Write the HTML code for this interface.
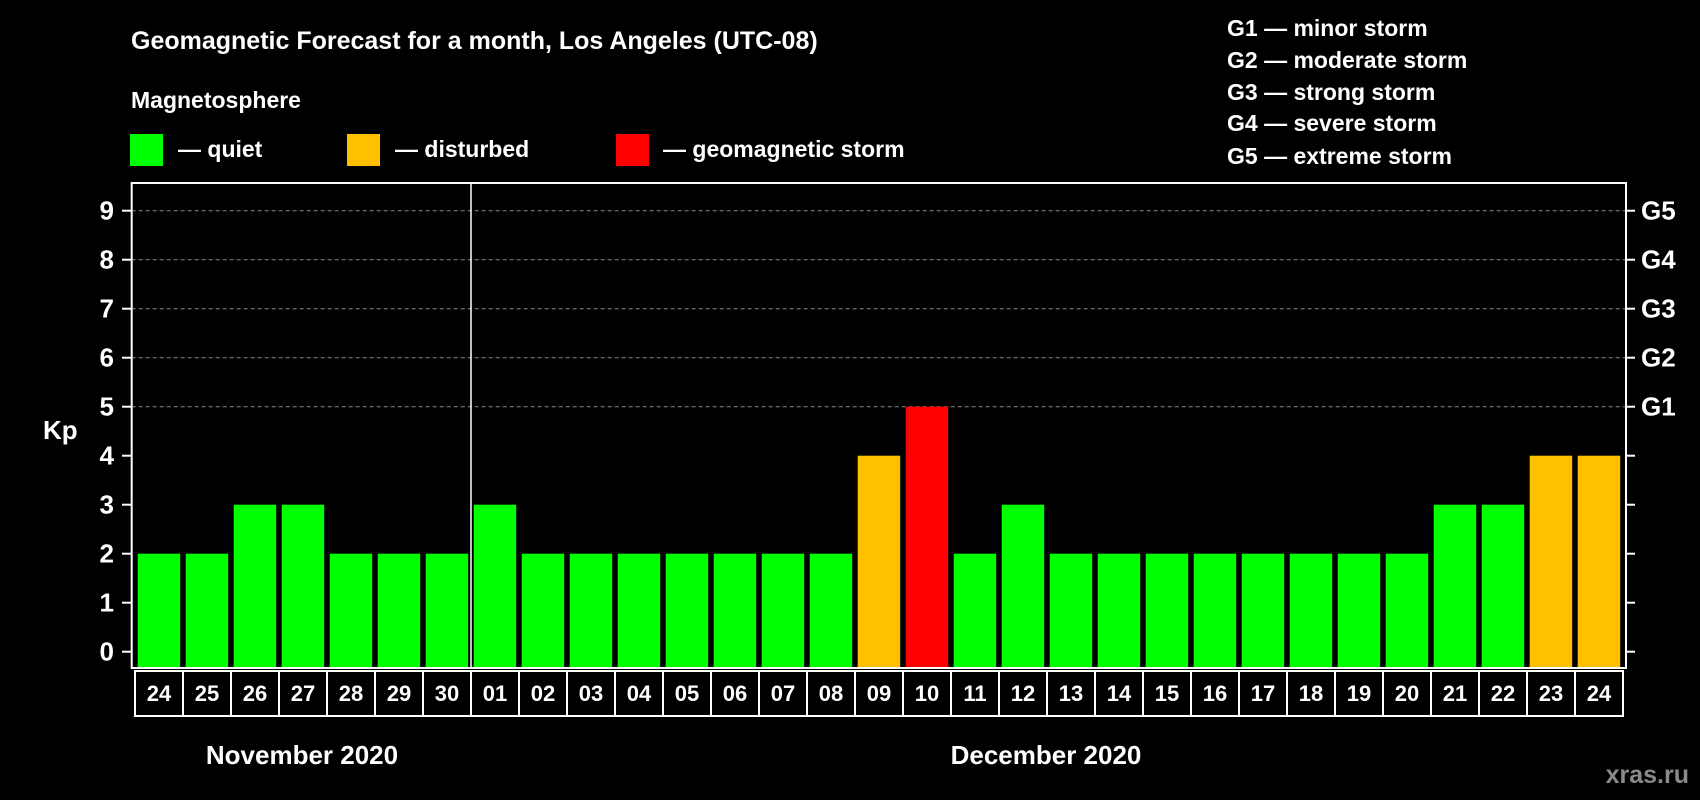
<!DOCTYPE html>
<html><head><meta charset="utf-8"><style>
html,body{margin:0;padding:0;background:#000;}
svg{display:block;font-family:"Liberation Sans",Arial,sans-serif;font-weight:bold;}
</style></head><body>
<svg id="chart" width="1700" height="800" viewBox="0 0 1700 800" xmlns="http://www.w3.org/2000/svg">
<rect width="1700" height="800" fill="#000"/>
<text x="131" y="49" fill="#fff" font-size="25">Geomagnetic Forecast for a month, Los Angeles (UTC-08)</text>
<text x="131" y="108" fill="#fff" font-size="23">Magnetosphere</text>
<rect x="130" y="134" width="33" height="32" fill="#00ff00"/>
<text x="178" y="157" fill="#fff" font-size="23">— quiet</text>
<rect x="347" y="134" width="33" height="32" fill="#ffc000"/>
<text x="395" y="157" fill="#fff" font-size="23">— disturbed</text>
<rect x="616" y="134" width="33" height="32" fill="#ff0000"/>
<text x="663" y="157" fill="#fff" font-size="23">— geomagnetic storm</text>
<g fill="#fff" font-size="23">
<text x="1227" y="36">G1 — minor storm</text>
<text x="1227" y="68">G2 — moderate storm</text>
<text x="1227" y="100">G3 — strong storm</text>
<text x="1227" y="131">G4 — severe storm</text>
<text x="1227" y="164">G5 — extreme storm</text>
</g>
<text x="43" y="439" fill="#fff" font-size="26">Kp</text>
<g id="grid"></g>
<g id="bars"></g>
<g id="axes"></g>
<g id="dates"></g>
<text x="302" y="764" fill="#fff" font-size="26" text-anchor="middle">November 2020</text>
<text x="1046" y="764" fill="#fff" font-size="26" text-anchor="middle">December 2020</text>
<text x="1689" y="783" fill="#8a8a8a" font-size="25" text-anchor="end">xras.ru</text>
</svg>
<script>
const dayLabels = ["24","25","26","27","28","29","30","01","02","03","04","05","06","07","08","09","10","11","12","13","14","15","16","17","18","19","20","21","22","23","24"];
const kpValues = [2,2,3,3,2,2,2,3,2,2,2,2,2,2,2,4,5,2,3,2,2,2,2,2,2,2,2,3,3,4,4];
const yTicks = [0,1,2,3,4,5,6,7,8,9];
const gLabels = ["G1","G2","G3","G4","G5"];
const gLevels = [5,6,7,8,9];

const NS="http://www.w3.org/2000/svg";
const L=131.7,R=1626,T=183,B=668,y0=651.7,unit=49,pitch=48,bx0=137.7,bw=42.5,cx0=135;
const y=v=>y0-v*unit;
const x=i=>bx0+i*pitch;
function mk(tag,attrs,parent){const e=document.createElementNS(NS,tag);for(const k in attrs)e.setAttribute(k,attrs[k]);parent.appendChild(e);return e;}
const grid=document.getElementById('grid'),bars=document.getElementById('bars'),axes=document.getElementById('axes'),dates=document.getElementById('dates');
gLevels.forEach((g,i)=>{
  const ln=mk('line',{x1:L,x2:R,y1:y(g),y2:y(g),stroke:'#888','stroke-width':1,'stroke-dasharray':'4,3'},grid);
  
  
  const t=mk('text',{x:1641,y:y(g)+9,fill:'#fff','font-size':26},axes);
  t.textContent=gLabels[i];
  
  
});
kpValues.forEach((v,i)=>{
  const c=v>=5?'#ff0000':(v>=4?'#ffc000':'#00ff00');
  const r=mk('rect',{x:x(i),y:y(v),width:bw,height:B-y(v),fill:c},bars);
  
  
});
yTicks.forEach(v=>{
  const tk=mk('line',{x1:122,x2:L,y1:y(v),y2:y(v),stroke:'#fff','stroke-width':2},axes);
  
  
  const rt=mk('line',{x1:R,x2:R+9,y1:y(v),y2:y(v),stroke:'#fff','stroke-width':2},axes);
  
  
  const t=mk('text',{x:114,y:y(v)+9,fill:'#fff','font-size':26,'text-anchor':'end'},axes);
  t.textContent=v;
  
  
});
const frame=mk('rect',{x:L,y:T,width:R-L,height:B-T,fill:'none',stroke:'#fff','stroke-width':2},axes);


const sx=cx0+7*pitch;
const sep=mk('line',{x1:sx,x2:sx,y1:T,y2:B,stroke:'#fff','stroke-width':1.5},axes);


dayLabels.forEach((d,i)=>{
  const cell=mk('rect',{x:cx0+i*pitch,y:671,width:pitch,height:45,fill:'none',stroke:'#fff','stroke-width':2},dates);
  
  
  const t=mk('text',{x:cx0+i*pitch+pitch/2,y:701,fill:'#fff','font-size':22,'text-anchor':'middle'},dates);
  t.textContent=d;
  
  
});
</script>
</body></html>
